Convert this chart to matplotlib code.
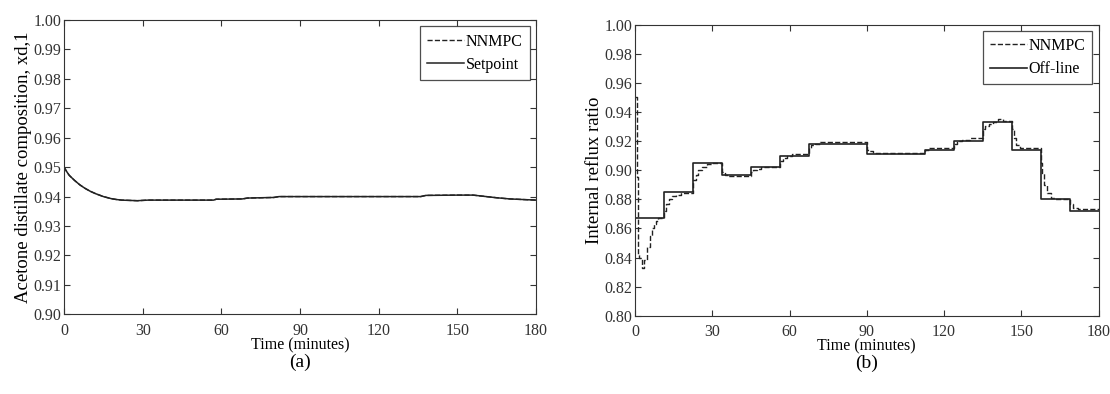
import numpy as np
import matplotlib.pyplot as plt

plt.rcParams['font.family'] = ['Liberation Serif', 'DejaVu Serif']

# (a) acetone distillate composition
xd_t = [0, 1, 2, 4, 6, 8, 10, 12, 15, 18, 20, 22, 25, 28, 32, 40, 50, 57, 58,
        68, 70, 80, 82, 100, 120, 136, 138, 150, 156, 160, 165, 170, 175, 180]
xd_nnmpc = [0.950, 0.9485, 0.9472, 0.9455, 0.9440, 0.9428, 0.9418, 0.9410, 0.9400,
            0.9393, 0.9390, 0.9388, 0.9387, 0.9386, 0.9388, 0.9388, 0.9388, 0.9388,
            0.9391, 0.9392, 0.9395, 0.9397, 0.9400, 0.9400, 0.9400, 0.9400, 0.9404,
            0.9405, 0.9405, 0.9401, 0.9396, 0.9392, 0.9390, 0.9388]
xd_setpoint = xd_nnmpc

# (b) internal reflux ratio
off_t = [0, 11.25, 22.5, 33.75, 45, 56.25, 67.5, 78.75, 90, 101.25, 112.5,
         123.75, 135, 146.25, 157.5, 168.75, 180]
off_v = [0.867, 0.885, 0.905, 0.897, 0.902, 0.910, 0.918, 0.918, 0.911, 0.911,
         0.914, 0.920, 0.933, 0.914, 0.880, 0.872, 0.872]

nn_t = [0, 0.6, 1.3, 1.7, 2.6, 3.3, 4.6, 5.9, 6.6, 7.4, 8.2, 9.1, 11.25, 12, 13,
        14.5, 16, 18, 22.5, 23.5, 24.5, 26, 28, 30, 33.75, 35, 36.5, 38, 45, 46,
        47.5, 49, 56.25, 57.5, 59, 61, 63, 67.5, 68.5, 70, 72, 90, 91, 92.5, 95,
        112.5, 114, 116, 123.75, 125, 127, 130, 135, 136, 137.5, 139, 141, 143,
        146.25, 147, 148, 149.5, 151, 157.5, 158, 159, 160, 161.5, 163, 168.75,
        170, 172, 180]
nn_v = [0.950, 0.895, 0.842, 0.840, 0.833, 0.838, 0.847, 0.855, 0.860, 0.863,
        0.865, 0.867, 0.872, 0.877, 0.880, 0.882, 0.883, 0.884, 0.893, 0.897,
        0.900, 0.902, 0.904, 0.905, 0.899, 0.897, 0.896, 0.896, 0.899, 0.900,
        0.901, 0.902, 0.906, 0.908, 0.910, 0.911, 0.911, 0.915, 0.917, 0.918,
        0.919, 0.914, 0.913, 0.912, 0.912, 0.914, 0.915, 0.915, 0.918, 0.920,
        0.921, 0.922, 0.928, 0.930, 0.932, 0.933, 0.935, 0.934, 0.928, 0.922,
        0.917, 0.915, 0.915, 0.905, 0.898, 0.890, 0.884, 0.881, 0.880, 0.877,
        0.874, 0.873, 0.873]

fig = plt.figure(figsize=(11.1, 3.94), dpi=100)
ax1 = fig.add_axes([0.0577, 0.2023, 0.4252, 0.7469])
ax2 = fig.add_axes([0.5721, 0.1985, 0.4176, 0.7393])

col = '#222222'
ax1.plot(xd_t, xd_nnmpc, '--', color=col, lw=1.0, label='NNMPC')
ax1.plot(xd_t, xd_setpoint, '-', color=col, lw=1.1, label='Setpoint')
ax1.set_ylim(0.90, 1.00)
ax1.set_yticks(np.arange(0.90, 1.001, 0.01))
ax1.set_ylabel('Acetone distillate composition, xd,1', fontsize=13.5, labelpad=1)

ax2.plot(nn_t, nn_v, '--', color=col, lw=1.0, drawstyle='steps-post', label='NNMPC')
ax2.plot(off_t, off_v, '-', color=col, lw=1.2, drawstyle='steps-post', label='Off-line')
ax2.set_ylim(0.80, 1.00)
ax2.set_yticks(np.arange(0.80, 1.001, 0.02))
ax2.set_ylabel('Internal reflux ratio', fontsize=13.5, labelpad=1)

for ax, tag in [(ax1, '(a)'), (ax2, '(b)')]:
    ax.set_xlim(0, 180)
    ax.set_xticks(range(0, 181, 30))
    ax.yaxis.set_major_formatter(plt.FormatStrFormatter('%.2f'))
    ax.tick_params(direction='in', top=True, right=True, length=4, width=0.8,
                   labelsize=11.5, colors='#333333')
    ax.tick_params(axis='y', pad=2)
    ax.tick_params(axis='x', pad=6)
    for s in ax.spines.values():
        s.set_color('#333333')
        s.set_linewidth(0.8)
    ax.set_xlabel('Time (minutes)', fontsize=11.5, labelpad=-1)
    leg = ax.legend(loc='upper right', fontsize=11.5, frameon=True, fancybox=False,
                    handlelength=2.3, handletextpad=0.1, borderaxespad=0.4,
                    borderpad=0.45, labelspacing=0.45)
    leg.get_frame().set_edgecolor('#222222')
    leg.get_frame().set_linewidth(0.9)
    ax.text(0.5, -0.163, tag, transform=ax.transAxes, ha='center', va='center',
            fontsize=14)

fig.savefig('out.png', dpi=100)
